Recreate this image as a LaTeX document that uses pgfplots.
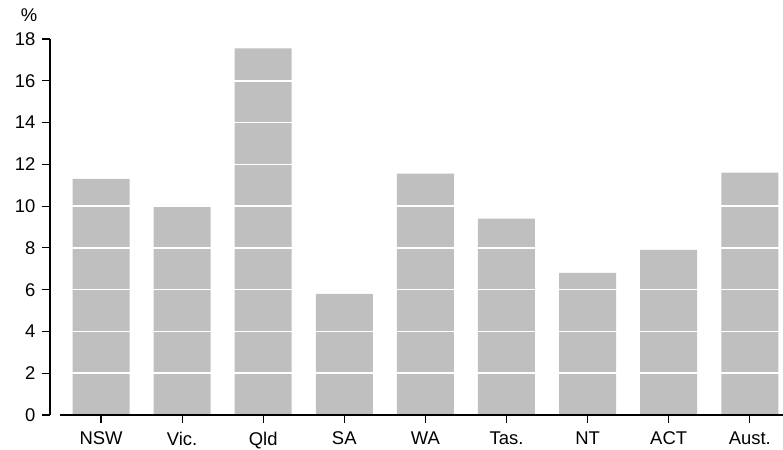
\documentclass[border=0pt]{standalone}
\usepackage{fontspec}
\setmainfont{Liberation Sans}
\usepackage{pgfplots}
\pgfplotsset{compat=1.18}
\definecolor{bargray}{HTML}{BFBFBF}

\begin{document}
\fontsize{18.5}{22}\selectfont
\begin{tikzpicture}
\begin{axis}[
    scale only axis,
    width=733bp, height=376bp,
    xmin=-0.629, xmax=8.41,
    ymin=0, ymax=18,
    axis x line=bottom, axis y line=left,
    x axis line style={-, shorten <=10bp},
    y axis line style={-},
    line width=1.2bp,
    tick align=outside,
    major tick length=8bp,
    tick style={black, line width=1.2bp},
    xtick={0,...,8},
    xticklabels={NSW,Vic.,Qld,SA,WA,Tas.,NT,ACT,Aust.},
    ytick={0,2,...,18},
    /pgf/number format/assume math mode=true,
    ymajorgrids=true,
    grid style={white, line width=1.5bp},
    axis on top,
    tick label style={font=\fontsize{18.5}{22}\selectfont},
    xticklabel style={yshift=-2bp},
    clip=false,
]
\addplot[ybar, bar width=57bp, fill=bargray, draw=none]
    coordinates {(0,11.3)(1,9.95)(2,17.55)(3,5.8)(4,11.55)(5,9.4)(6,6.8)(7,7.9)(8,11.6)};
\node at ([xshift=-21bp,yshift=24bp]rel axis cs:0,1) {\%};
\end{axis}
\pgfresetboundingbox
\path[use as bounding box] (-50bp,-35bp) rectangle (733bp,415bp);
\end{tikzpicture}
\end{document}
